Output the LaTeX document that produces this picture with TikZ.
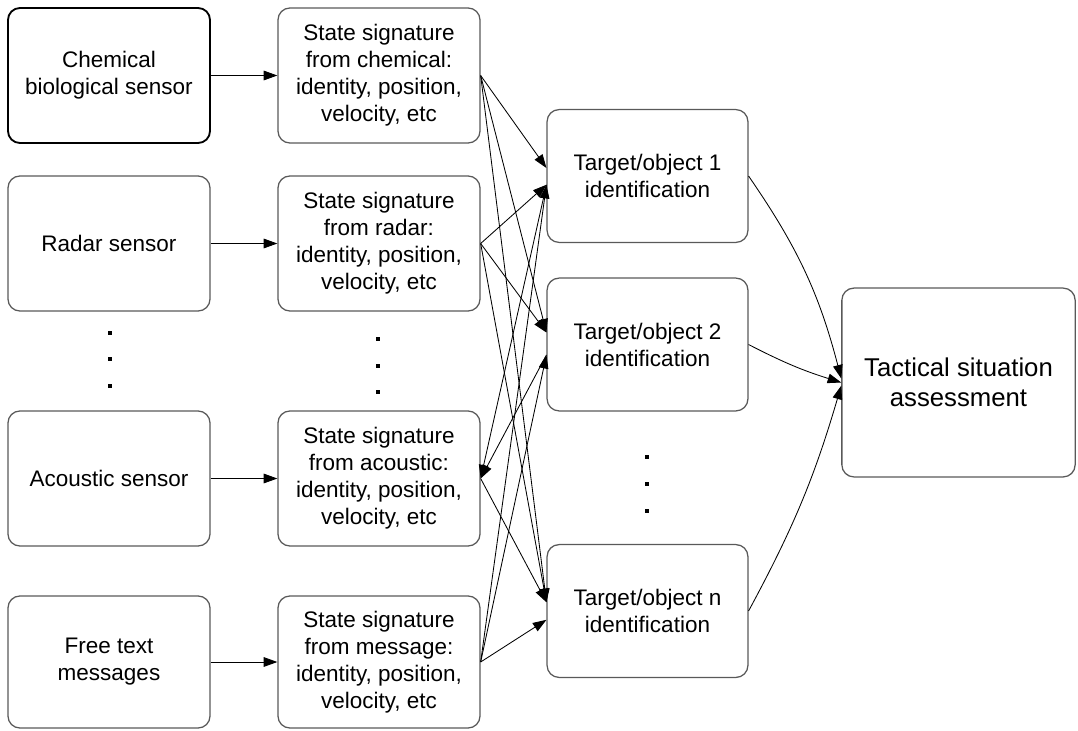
\documentclass[tikz,border=0pt]{standalone}
\usepackage{fontspec}
\setmainfont{Liberation Sans}
\usetikzlibrary{arrows.meta}

\begin{document}
\begin{tikzpicture}[
  x=0.025cm, y=-0.025cm,
  box/.style={draw=black!65, line width=0.9pt, rounded corners=0.3cm, align=center,
    minimum width=5.05cm, minimum height=3.375cm, inner sep=0pt,
    font=\fontsize{16}{19.2}\selectfont},
  tgt/.style={box, minimum width=5.02cm, minimum height=3.32cm},
  big/.style={box, minimum width=5.83cm, minimum height=4.72cm,
    font=\fontsize{18.3}{21.3}\selectfont},
  arr/.style={-{Triangle[length=0.34cm,width=0.24cm]}, line width=0.6pt},
  dot/.style={fill=black}
]
\useasboundingbox (0,0) rectangle (1078,730);

% sensors
\node [box, draw=black, line width=1.3pt] (chem) at (109,75.5) {Chemical\\biological sensor};
\node [box] (radar) at (109,243.5) {Radar sensor};
\node [box] (acou) at (109,478.5) {Acoustic sensor};
\node [box, minimum height=3.3cm] (msg) at (109,662) {Free text\\messages};

% state signatures
\node [box] (schem) at (379,75.5) {State signature\\from chemical:\\identity, position,\\velocity, etc};
\node [box] (sradar) at (379,243.5) {State signature\\from radar:\\identity, position,\\velocity, etc};
\node [box] (sacou) at (379,478.5) {State signature\\from acoustic:\\identity, position,\\velocity, etc};
\node [box, minimum height=3.3cm] (smsg) at (379,662) {State signature\\from message:\\identity, position,\\velocity, etc};

% targets
\node [tgt] (t1) at (647.5,176) {Target/object 1\\identification};
\node [tgt] (t2) at (647.5,344.5) {Target/object 2\\identification};
\node [tgt] (tn) at (647.5,611) {Target/object n\\identification};

\node [big] (tact) at (958.5,382.5) {Tactical situation\\assessment};

% dots
\foreach \y in {331,357,384} \fill [dot] (108,\y) rectangle ++(4,4);
\foreach \y in {337,364,390} \fill [dot] (376,\y) rectangle ++(4,4);
\foreach \y in {455,482,509} \fill [dot] (645,\y) rectangle ++(4,4);

\draw [arr] (chem) -- (schem);
\draw [arr] (radar) -- (sradar);
\draw [arr] (acou) -- (sacou);
\draw [arr] (msg) -- (smsg);

\coordinate (t1a) at ([yshift=0.2cm]t1.west);
\coordinate (t1b) at ([yshift=-0.22cm]t1.west);
\coordinate (t2a) at ([yshift=0.3cm]t2.west);
\coordinate (t2b) at ([yshift=-0.26cm]t2.west);
\coordinate (tna) at ([yshift=0.22cm]tn.west);
\coordinate (tnb) at ([yshift=-0.22cm]tn.west);

\draw [arr] (schem.east) -- (t1a);
\draw [arr] (schem.east) -- (t2a);
\draw [arr] (schem.east) -- (tna);
\draw [arr] (sradar.east) -- (t1b);
\draw [arr] (sradar.east) -- (t2a);
\draw [arr] (sradar.east) -- (tna);
\draw [arr] (t1b) -- (sacou.east);
\draw [arr] (t2b) -- (sacou.east);
\draw [arr] (sacou.east) -- (tna);
\draw [arr] (smsg.east) -- (t1b);
\draw [arr] (smsg.east) -- (t2b);
\draw [arr] (smsg.east) -- (tnb);

\draw [arr] (t1.east) to [bend left=10] ([yshift=0.1cm]tact.west);
\draw [arr] (t2.east) to [bend right=5] (tact.west);
\draw [arr] (tn.east) to [bend right=6] ([yshift=-0.08cm]tact.west);
\end{tikzpicture}
\end{document}
